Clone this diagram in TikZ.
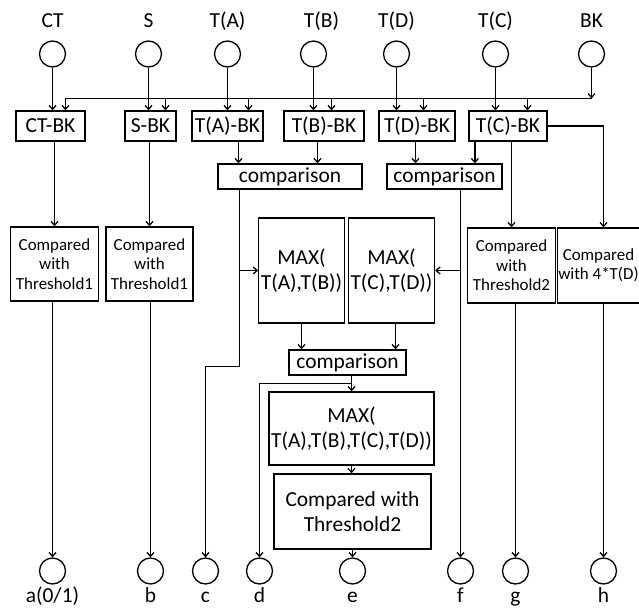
\documentclass[tikz,border=0pt]{standalone}
\usepackage{fontspec}
\setmainfont{Carlito}
\usetikzlibrary{arrows.meta}

\begin{document}
\begin{tikzpicture}[x=1bp, y=-1bp, >={Straight Barb[length=4pt,width=7pt]}, line width=1.3pt,
  every node/.style={font=\fontsize{21.5}{25}\selectfont},
  port/.style={draw, circle, minimum size=26bp, inner sep=0pt},
  toplab/.style={label={[inner sep=0pt, text height=14pt, text depth=5pt, label distance=7pt]above:#1}},
  botlab/.style={label={[inner sep=0pt, text height=14pt, text depth=5pt, label distance=3pt]below:#1}},
  box/.style={draw, inner sep=2pt, align=center},
  bkbox/.style={box, minimum height=30bp},
  small/.style={font=\fontsize{17}{19.5}\selectfont}]
  \useasboundingbox (0,0) rectangle (639,610);
  % inputs
  \node[port, toplab=CT] (CTi) at (52.5,54) {};
  \node[port, toplab=S] (Si) at (148.5,54) {};
  \node[port, toplab=T(A)] (TAi) at (227.5,54) {};
  \node[port, label={[inner sep=0pt, text height=14pt, text depth=5pt, label distance=7pt, xshift=8pt]above:T(B)}] (TBi) at (313.5,54) {};
  \node[port, toplab=T(D)] (TDi) at (396.5,54) {};
  \node[port, toplab=T(C)] (TCi) at (495.5,54) {};
  \node[port, toplab=BK] (BKi) at (591.5,54) {};
  % minus BK
  \node[bkbox, minimum width=69bp] (CTBK) at (50.5,126) {CT-BK};
  \node[bkbox, minimum width=51bp] (SBK) at (150.5,126) {S-BK};
  \node[bkbox, minimum width=71bp] (TABK) at (227.5,126) {T(A)-BK};
  \node[bkbox, minimum width=80bp] (TBBK) at (324,126) {T(B)-BK};
  \node[bkbox, minimum width=76bp] (TDBK) at (417,126) {T(D)-BK};
  \node[bkbox, minimum width=78bp] (TCBK) at (508,126) {T(C)-BK};
  % comparisons
  \node[box, minimum width=144bp, minimum height=25bp] (cmp1) at (290,176.5) {comparison};
  \node[box, minimum width=115bp, minimum height=25bp] (cmp2) at (444.5,176.5) {comparison};
  % thresholds
  \node[box, small, minimum width=88bp, minimum height=74bp] (thA) at (54.5,264) {Compared\\with\\Threshold1};
  \node[box, small, minimum width=87bp, minimum height=74bp] (thB) at (149.5,264) {Compared\\with\\Threshold1};
  \node[box, small, minimum width=88bp, minimum height=75bp] (thG) at (511.5,265.5) {Compared\\with\\Threshold2};
  \node[box, small, minimum width=79bp, minimum height=75bp, inner sep=0.5pt] (thH) at (598.5,265.5) {Compared\\with 4*T(D)};
  % max
  \node[box, minimum width=84bp, minimum height=105bp] (max1) at (301.5,270.5) {MAX(\\T(A),T(B))};
  \node[box, minimum width=86bp, minimum height=105bp] (max2) at (391.5,270.5) {MAX(\\T(C),T(D))};
  \node[box, minimum width=117bp, minimum height=25bp] (cmp3) at (347.5,362.5) {comparison};
  \node[box, minimum width=165bp, minimum height=73bp] (max3) at (351.5,428.5) {MAX(\\T(A),T(B),T(C),T(D))};
  \node[box, minimum width=157bp, minimum height=75bp] (thE) at (352.5,511.5) {Compared with\\Threshold2};
  % outputs
  \node[port, botlab=a(0/1)] (a) at (52.5,571) {};
  \node[port, botlab=b] (b) at (150.5,571) {};
  \node[port, botlab=c] (c) at (205.5,571) {};
  \node[port, botlab=d] (d) at (259.5,571) {};
  \node[port, botlab=e] (e) at (352.5,571) {};
  \node[port, botlab=f] (f) at (460.5,571) {};
  \node[port, botlab=g] (g) at (515.5,571) {};
  \node[port, botlab=h] (h) at (603.5,571) {};

  % inputs to boxes
  \foreach \i/\b in {CTi/CTBK, Si/SBK, TAi/TABK, TBi/TBBK, TDi/TDBK, TCi/TCBK}
    \draw[->] (\i) -- (\i |- \b.north);
  % BK bus
  \coordinate (bus) at (65.5,98.5);
  \draw (bus) -- (BKi |- bus);
  \draw[->] (BKi) -- (BKi |- bus);
  \foreach \b/\dx in {CTBK/15, SBK/15, TABK/21, TBBK/7.5, TDBK/6.5, TCBK/19.5}
    \draw[->] ([xshift=\dx bp]\b.north |- bus) -- ([xshift=\dx bp]\b.north);
  % boxes to comparisons
  \draw[->] ([xshift=11bp]TABK.south) -- ([xshift=11bp]TABK.south |- cmp1.north);
  \draw[->] ([xshift=-6.5bp]TBBK.south) -- ([xshift=-6.5bp]TBBK.south |- cmp1.north);
  \draw[->] ([xshift=-1.5bp]TDBK.south) -- ([xshift=-1.5bp]TDBK.south |- cmp2.north);
  \draw[->] ([xshift=6.5bp]TCBK.south west) -- ([xshift=6.5bp]TCBK.south west |- cmp2.north);
  \draw[->] (thG.north |- TCBK.south) -- (thG.north);
  \draw[->] (TCBK.east) -| (h |- thH.north);
  % thresholds
  \draw[->] (thA.north |- CTBK.south) -- (thA.north);
  \draw[->] (thB.north |- SBK.south) -- (thB.north);
  \draw[->] (a |- thA.south) -- (a);
  \draw[->] (b |- thB.south) -- (b);
  \draw[->] (g |- thG.south) -- (g);
  \draw[->] (h |- thH.south) -- (h);
  % comparison outputs
  \coordinate (k1) at ([xshift=-50.5bp]cmp1.south);
  \coordinate (c1) at (205.5,366.5);
  \draw[->] (k1) |- (c1) -- (c);
  \draw[->] (k1 |- max1.west) -- (max1.west);
  \draw[->] (f |- cmp2.south) -- (f);
  \draw[->] (f |- max2.east) -- (max2.east);
  % max chain
  \draw[->] (max1.south) -- (max1.south |- cmp3.north);
  \draw[->] ([xshift=4bp]max2.south) -- ([xshift=4bp]max2.south |- cmp3.north);
  \draw[->] (max3.north |- cmp3.south) -- (max3.north);
  \coordinate (d1) at (259.5,383.5);
  \draw[->] (max3.north |- cmp3.south) |- (d1) -- (d);
  \draw[->] (max3.south) -- (max3.south |- thE.north);
  \draw[->] (e |- thE.south) -- (e);
\end{tikzpicture}
\end{document}
